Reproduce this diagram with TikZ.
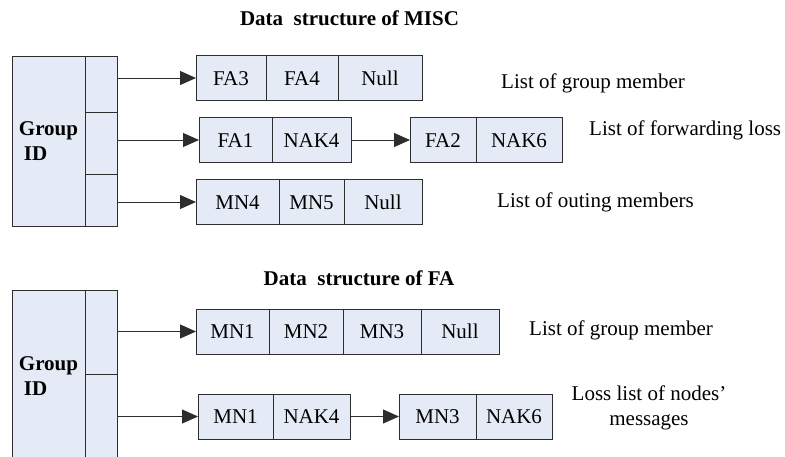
\documentclass[tikz,border=0pt]{standalone}
\usepackage{fontspec}
\setmainfont{Liberation Serif}
\usetikzlibrary{positioning,arrows.meta}

\definecolor{cellblue}{RGB}{229,235,246}
\definecolor{edgegray}{RGB}{45,45,45}
\newcommand{\bigtxt}{\fontsize{21}{25}\selectfont}

\begin{document}
\begin{tikzpicture}[
  x=1pt, y=-1pt,
  cell/.style={draw=edgegray, fill=cellblue, line width=1pt, outer sep=0pt, inner sep=0pt,
               minimum height=45, text height=14pt, text depth=0pt, font=\bigtxt},
  slot/.style={draw=edgegray, fill=cellblue, line width=1pt, outer sep=0pt, inner sep=0pt,
               minimum width=32},
  grp/.style={draw=edgegray, fill=cellblue, line width=1pt, outer sep=0pt, inner sep=0pt,
              minimum width=73, align=left, font=\bfseries\bigtxt},
  ttl/.style={font=\bfseries\bigtxt, inner sep=0pt},
  lbl/.style={font=\bigtxt, inner sep=0pt},
  arr/.style={-{Triangle[length=16pt,width=14pt]}, line width=1pt, draw=edgegray},
]
\useasboundingbox (0,0) rectangle (785,456);

% MISC
\node[ttl, anchor=base] (tM) at (349.5,25) {Data\ \ structure of MISC};

\node[grp, minimum height=170, anchor=north west] (gM) at (12,56) {Group\\\hspace*{5pt}ID};
\node[slot, minimum height=56, anchor=north west] (gM1) at (gM.north east) {};
\node[slot, minimum height=62, below=0pt of gM1] (gM2) {};
\node[slot, minimum height=52, below=0pt of gM2] (gM3) {};

\node[cell, minimum width=70, anchor=west] (m1a) at (196,78) {FA3};
\node[cell, minimum width=72, right=0pt of m1a] (m1b) {FA4};
\node[cell, minimum width=84, right=0pt of m1b] (m1c) {Null};

\node[cell, minimum width=73, anchor=west] (m2a) at (199,140) {FA1};
\node[cell, minimum width=79, right=0pt of m2a] (m2b) {NAK4};
\node[cell, minimum width=66, right=59pt of m2b] (m2c) {FA2};
\node[cell, minimum width=86, right=0pt of m2c] (m2d) {NAK6};

\node[cell, minimum width=83, anchor=west] (m3a) at (196,202) {MN4};
\node[cell, minimum width=65, right=0pt of m3a] (m3b) {MN5};
\node[cell, minimum width=78, right=0pt of m3b] (m3c) {Null};

\node[lbl, anchor=base west] (lM1) at (501,88) {List of group member};
\node[lbl, anchor=base west] (lM2) at (589,135) {List of forwarding loss};
\node[lbl, anchor=base west] (lM3) at (497,207) {List of outing members};

\draw[arr] (gM1.east |- m1a.west) -- (m1a.west);
\draw[arr] (gM2.east |- m2a.west) -- (m2a.west);
\draw[arr] (m2b.east) -- (m2c.west);
\draw[arr] (gM3.east |- m3a.west) -- (m3a.west);

% FA
\node[ttl, anchor=base] (tF) at (359,285) {Data\ \ structure of FA};

\node[grp, minimum height=172, anchor=north west] (gF) at (12,290) {Group\\\hspace*{5pt}ID};
\node[slot, minimum height=84, anchor=north west] (gF1) at (gF.north east) {};
\node[slot, minimum height=88, below=0pt of gF1] (gF2) {};

\node[cell, minimum width=73, anchor=west] (f1a) at (196,331.5) {MN1};
\node[cell, minimum width=74, right=0pt of f1a] (f1b) {MN2};
\node[cell, minimum width=78, right=0pt of f1b] (f1c) {MN3};
\node[cell, minimum width=78, right=0pt of f1c] (f1d) {Null};

\node[cell, minimum width=75, anchor=west] (f2a) at (198,416.5) {MN1};
\node[cell, minimum width=77, right=0pt of f2a] (f2b) {NAK4};
\node[cell, minimum width=77, right=49pt of f2b] (f2c) {MN3};
\node[cell, minimum width=76, right=0pt of f2c] (f2d) {NAK6};

\node[lbl, anchor=base west] (lF1) at (529,335) {List of group member};
\node[lbl, align=center] (lF2) at (649,407.5) {Loss list of nodes’\\messages};

\draw[arr] (gF1.east |- f1a.west) -- (f1a.west);
\draw[arr] (gF2.east |- f2a.west) -- (f2a.west);
\draw[arr] (f2b.east) -- (f2c.west);
\end{tikzpicture}
\end{document}
